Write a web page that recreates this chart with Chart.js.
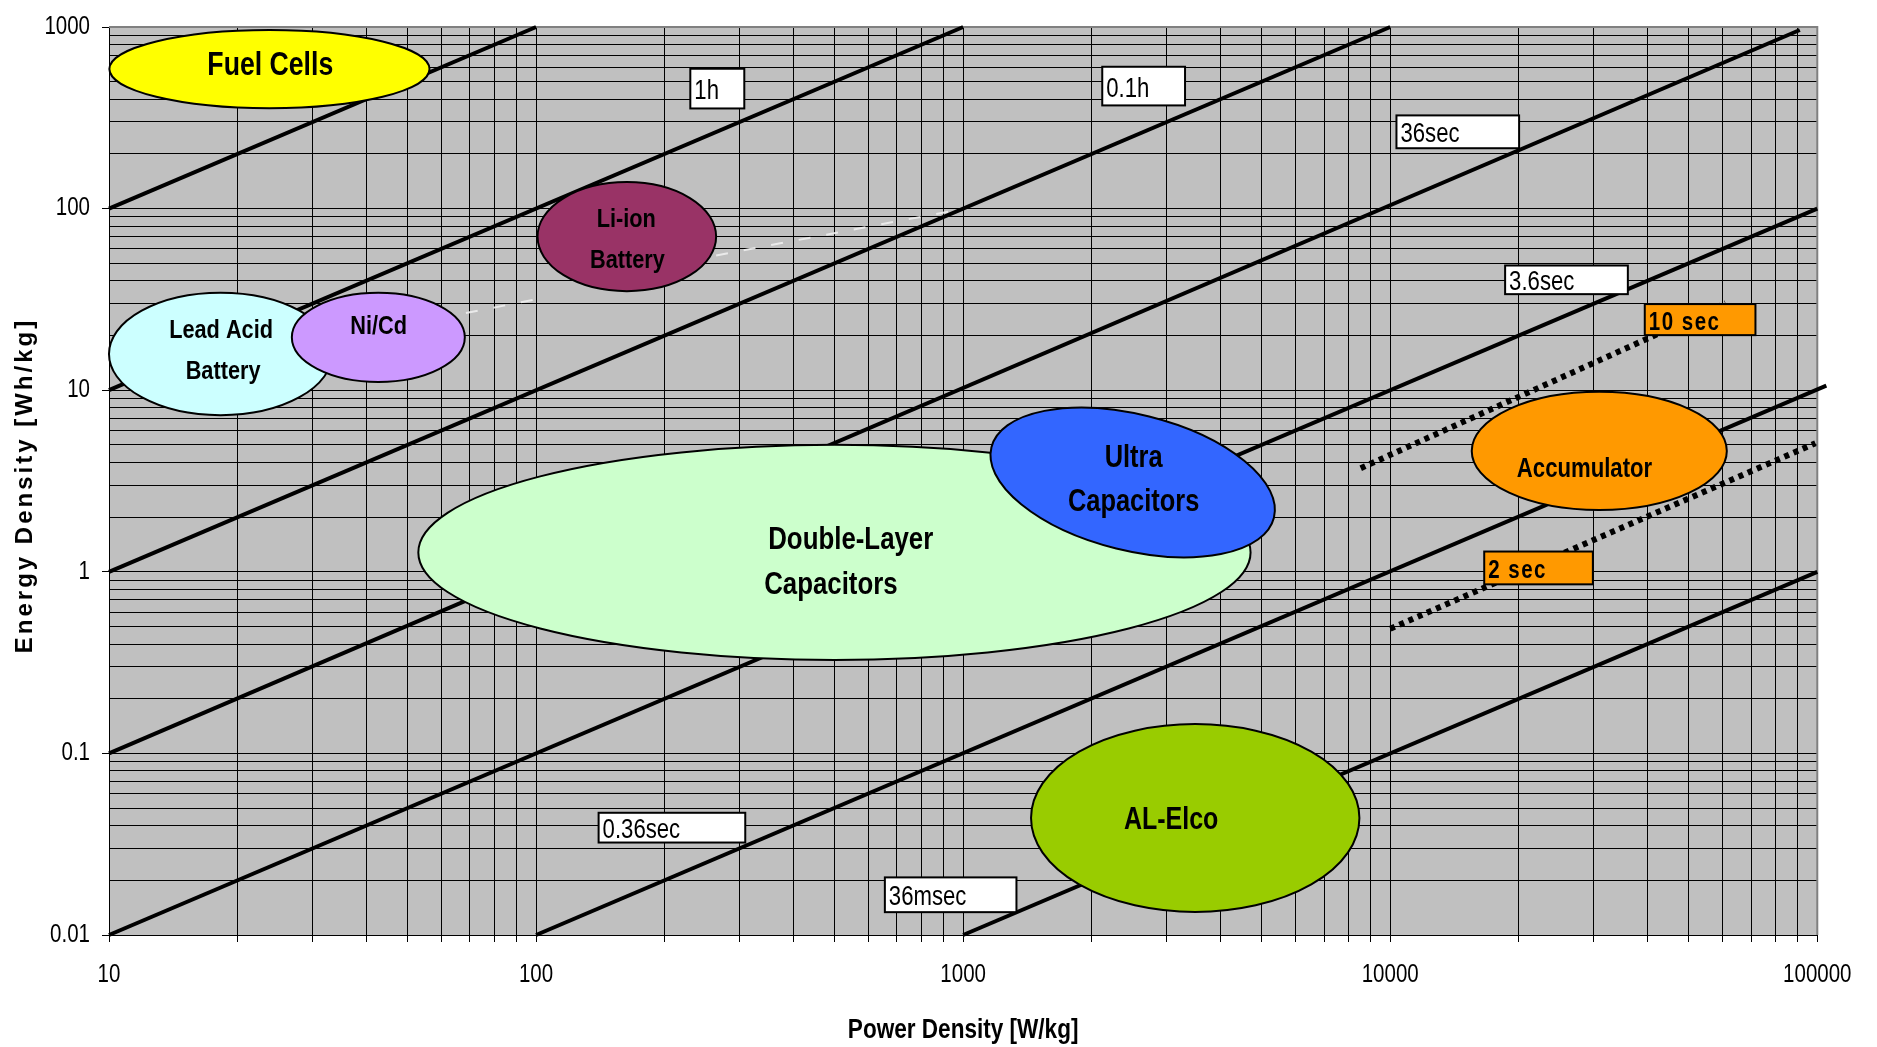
<!DOCTYPE html>
<html>
<head>
<meta charset="utf-8">
<script src="https://cdn.jsdelivr.net/npm/chart.js@4.4.0/dist/chart.umd.min.js"></script>
<style>
html,body{margin:0;padding:0;background:#ffffff;}
#wrap{width:1877px;height:1047px;position:relative;}
</style>
</head>
<body>
<div id="wrap"><canvas id="c"></canvas></div>
<script>
// ---------------- DATA ----------------
const xMajorTicks = [10, 100, 1000, 10000, 100000];
const xTickLabels = ['10', '100', '1000', '10000', '100000'];
const yMajorTicks = [0.01, 0.1, 1, 10, 100, 1000];
const yTickLabels = ['0.01', '0.1', '1', '10', '100', '1000'];

// constant discharge-time lines (Power W/kg, Energy Wh/kg)
const timeLineNames  = ['10h', '1h', '0.1h', '36sec', '3.6sec', '0.36sec', '36msec'];
const timeLineStartP = [10, 10, 10, 10, 10, 100, 1000];
const timeLineStartE = [100, 10, 1, 0.1, 0.01, 0.01, 0.01];
const timeLineEndP   = [100, 1000, 10000, 91000, 100000, 105000, 100000];
const timeLineEndE   = [1000, 1000, 1000, 963, 100, 10.6, 1];

// dotted lines
const dottedNames  = ['10 sec', '2 sec'];
const dottedStartP = [8530, 10000];
const dottedStartE = [3.72, 0.486];
const dottedEndP   = [61000, 99000];
const dottedEndE   = [30.1, 5.1];

// faint light dashed traces
const faintStartP = [68.5, 264];
const faintStartE = [26.6, 55.2];
const faintEndP   = [100.4, 1003];
const faintEndE   = [31.7, 99.8];

// technology regions (ellipses): power range, energy range, tilt (deg)
const techNames     = ['Fuel Cells', 'Lead Acid Battery', 'Ni/Cd', 'Li-ion Battery', 'Double-Layer Capacitors', 'Ultra Capacitors', 'Accumulator', 'AL-Elco'];
const techPowerMin  = [10.02, 10.0, 26.8, 100.8, 53, 1138, 15520, 1442];
const techPowerMax  = [56.3, 33.3, 68.1, 264, 4710, 5468, 61400, 8470];
const techEnergyMin = [357, 7.29, 11.1, 35.1, 0.327, 1.309, 2.19, 0.0134];
const techEnergyMax = [963, 34.4, 34.4, 140, 5.0, 7.356, 9.8, 0.145];
const techTilt      = [0, 0, 0, 0, 0, 14, 0, 0];
const techLabelLines = [['Fuel Cells'], ['Lead Acid', 'Battery'], ['Ni/Cd'], ['Li-ion', 'Battery'], ['Double-Layer', 'Capacitors'], ['Ultra', 'Capacitors'], ['Accumulator'], ['AL-Elco']];
const techLabelP = [[23.86], [18.3, 18.5], [42.8], [162.6, 163.6], [349.6, 342], [2507, 2507], [28510], [3069]];
const techLabelE = [[608], [21.3, 12.6], [22.3], [86.8, 51.9], [1.485, 0.8425], [4.225, 2.397], [3.646], [0.04258]];

// label boxes
const boxLabels = ['1h', '0.1h', '36sec', '3.6sec', '0.36sec', '36msec', '10 sec', '2 sec'];
const boxPmin = [229.7, 2117, 10342, 18580, 140.1, 655.7, 39450, 16600];
const boxPmax = [307.3, 3308, 20035, 36010, 308.9, 1333, 71650, 29820];
const boxEmin = [356, 370, 215, 33.8, 0.0323, 0.01336, 20.1, 0.853];
const boxEmax = [589, 604, 326, 48.6, 0.0471, 0.02076, 29.8, 1.293];

// ---------------- STYLE ----------------
const SANS = '"Liberation Sans", Arial, sans-serif';
const NARROW_SCALE = 0.82;  // Arial Narrow look
const techFill = ['#FFFF00', '#CCFFFF', '#CC99FF', '#993366', '#CCFFCC', '#3366FF', '#FF9900', '#99CC00'];
const techFont = [32.5, 26.5, 26.5, 26.5, 31.5, 31, 27, 30.5];
const techAlign = ['center', 'center', 'center', 'center', 'left', 'center', 'center', 'center'];
const boxFill = ['#FFFFFF', '#FFFFFF', '#FFFFFF', '#FFFFFF', '#FFFFFF', '#FFFFFF', '#FF9900', '#FF9900'];
const boxBold = [false, false, false, false, false, false, true, true];

function buildMinor(majors) {
  const out = [];
  for (let i = 0; i < majors.length; i++) {
    out.push(majors[i]);
    if (i < majors.length - 1) for (let k = 2; k <= 9; k++) out.push(+(majors[i] * k).toPrecision(6));
  }
  return out;
}
const xTickValues = buildMinor(xMajorTicks);
const yTickValues = buildMinor(yMajorTicks);

function majorIndex(list, v) {
  for (let i = 0; i < list.length; i++) if (Math.abs(v - list[i]) <= list[i] * 1e-6) return i;
  return -1;
}

// condensed text + optional letter spacing for every fillText on this canvas
const canvas = document.getElementById('c');
const ctx2d = canvas.getContext('2d');
(function install(ctx) {
  const orig = ctx.fillText;
  ctx._sx = NARROW_SCALE;
  ctx._sp = 0;
  ctx.fillText = function (text, x, y) {
    const sx = this._sx, sp = this._sp;
    this.save();
    this.translate(x, y);
    this.scale(sx, 1);
    if (!sp) {
      orig.call(this, text, 0, 0);
    } else {
      const chars = Array.from(String(text));
      const widths = chars.map(c => this.measureText(c).width);
      const gap = sp / sx;
      const total = widths.reduce((a, b) => a + b, 0) + gap * (chars.length - 1);
      const al = this.textAlign;
      let cx = al === 'center' ? -total / 2 : (al === 'right' || al === 'end') ? -total : 0;
      this.textAlign = 'left';
      chars.forEach((c, i) => { orig.call(this, c, cx, 0); cx += widths[i] + gap; });
    }
    this.restore();
  };
})(ctx2d);

// ---------------- DATASETS ----------------
const datasets = [];
dottedNames.forEach((n, i) => datasets.push({
  label: n,
  data: [{x: dottedStartP[i], y: dottedStartE[i]}, {x: dottedEndP[i], y: dottedEndE[i]}],
  showLine: true, pointRadius: 0, borderColor: '#000', borderWidth: 6,
  borderDash: [5, 5], borderCapStyle: 'butt', order: 0, clip: false
}));
timeLineNames.forEach((n, i) => datasets.push({
  label: n,
  data: [{x: timeLineStartP[i], y: timeLineStartE[i]}, {x: timeLineEndP[i], y: timeLineEndE[i]}],
  showLine: true, pointRadius: 0, borderColor: '#000', borderWidth: 4, order: 1, clip: false
}));
faintStartP.forEach((p, i) => datasets.push({
  label: 'trace' + i,
  data: [{x: p, y: faintStartE[i]}, {x: faintEndP[i], y: faintEndE[i]}],
  showLine: true, pointRadius: 0, borderColor: 'rgba(238,238,238,0.9)', borderWidth: 2,
  borderDash: [12, 16], order: 2
}));

// ---------------- PLUGIN ----------------
function drawRegions(chart) {
  const {ctx, scales: {x, y}} = chart;
  ctx.save();
  for (let i = 0; i < techNames.length; i++) {
    const x1 = x.getPixelForValue(techPowerMin[i]), x2 = x.getPixelForValue(techPowerMax[i]);
    const y1 = y.getPixelForValue(techEnergyMax[i]), y2 = y.getPixelForValue(techEnergyMin[i]);
    ctx.beginPath();
    ctx.ellipse((x1 + x2) / 2, (y1 + y2) / 2, (x2 - x1) / 2, (y2 - y1) / 2, techTilt[i] * Math.PI / 180, 0, Math.PI * 2);
    ctx.fillStyle = techFill[i];
    ctx.fill();
    ctx.lineWidth = 2;
    ctx.strokeStyle = '#000';
    ctx.stroke();
  }
  for (let i = 0; i < techNames.length; i++) {
    ctx.font = 'bold ' + techFont[i] + 'px ' + SANS;
    ctx.fillStyle = '#000';
    ctx.textAlign = techAlign[i];
    ctx.textBaseline = 'middle';
    techLabelLines[i].forEach((t, j) => {
      ctx.fillText(t, x.getPixelForValue(techLabelP[i][j]), y.getPixelForValue(techLabelE[i][j]));
    });
  }
  ctx.restore();
}

function drawBoxes(chart) {
  const {ctx, scales: {x, y}} = chart;
  ctx.save();
  for (let i = 0; i < boxLabels.length; i++) {
    const x1 = x.getPixelForValue(boxPmin[i]), x2 = x.getPixelForValue(boxPmax[i]);
    const y1 = y.getPixelForValue(boxEmax[i]), y2 = y.getPixelForValue(boxEmin[i]);
    ctx.fillStyle = boxFill[i];
    ctx.fillRect(x1, y1, x2 - x1, y2 - y1);
    ctx.lineWidth = 2;
    ctx.strokeStyle = '#000';
    ctx.strokeRect(x1, y1, x2 - x1, y2 - y1);
    ctx.fillStyle = '#000';
    ctx.textAlign = 'left';
    ctx.textBaseline = 'middle';
    if (boxBold[i]) { ctx.font = 'bold 25px ' + SANS; ctx._sp = 1.5; }
    else { ctx.font = '27px ' + SANS; ctx._sp = 0; }
    ctx.fillText(boxLabels[i], x1 + 4, (y1 + y2) / 2 + 3);
    ctx._sp = 0;
  }
  ctx.restore();
}

const ragonePlugin = {
  id: 'ragone',
  beforeDraw(chart) {
    const {ctx, chartArea: a} = chart;
    ctx.save();
    ctx.fillStyle = '#C0C0C0';
    ctx.fillRect(a.left, a.top, a.right - a.left, a.bottom - a.top);
    ctx.restore();
    const ys = chart.scales.y;
    if (ys && !ys._patchedTitle) {
      const orig = Object.getPrototypeOf(ys).drawTitle;
      ys.drawTitle = function () {
        const c = this.ctx;
        c.save();
        c._sx = 1; c._sp = 3;
        c.translate(0, 6);
        orig.call(this);
        c._sx = NARROW_SCALE; c._sp = 0;
        c.restore();
      };
      ys._patchedTitle = true;
    }
  },
  beforeDatasetsDraw(chart) {
    const {ctx, chartArea: a} = chart;
    ctx.save();
    ctx.strokeStyle = '#808080';
    ctx.lineWidth = 2;
    ctx.beginPath();
    ctx.moveTo(a.left, a.top);
    ctx.lineTo(a.right, a.top);
    ctx.lineTo(a.right, a.bottom);
    ctx.stroke();
    ctx.restore();
    chart._regionsDone = false;
  },
  beforeDatasetDraw(chart, args) {
    const ds = chart.data.datasets[args.index];
    if (dottedNames.includes(ds.label) && !chart._regionsDone) {
      drawRegions(chart);
      chart._regionsDone = true;
    }
  },
  afterDatasetsDraw(chart) {
    if (!chart._regionsDone) { drawRegions(chart); chart._regionsDone = true; }
    drawBoxes(chart);
  }
};

// ---------------- CHART ----------------
new Chart(canvas, {
  type: 'scatter',
  data: {datasets},
  options: {
    responsive: true,
    maintainAspectRatio: false,
    animation: false,
    events: [],
    layout: {padding: {top: 21, right: 55, left: 0, bottom: 0}},
    plugins: {legend: {display: false}, tooltip: {enabled: false}},
    scales: {
      x: {
        type: 'logarithmic', position: 'bottom', min: 10, max: 100000,
        afterBuildTicks: s => { s.ticks = xTickValues.map(v => ({value: v})); },
        afterFit: s => { s.height = 112; },
        ticks: {
          autoSkip: false, maxRotation: 0, minRotation: 0, padding: 18, color: '#000',
          font: {family: SANS, size: 25},
          callback: v => { const k = majorIndex(xMajorTicks, v); return k >= 0 ? xTickLabels[k] : ''; }
        },
        grid: {color: '#000', lineWidth: 1, tickLength: 7, tickColor: '#000', tickWidth: 1},
        border: {color: '#000', width: 1},
        title: {display: true, text: 'Power Density [W/kg]', color: '#000',
                font: {family: SANS, size: 27.5, weight: 'bold'}, padding: {top: 0, bottom: 0}}
      },
      y: {
        type: 'logarithmic', position: 'left', min: 0.01, max: 1000,
        afterBuildTicks: s => { s.ticks = yTickValues.map(v => ({value: v})); },
        afterFit: s => { s.width = 109; },
        ticks: {
          autoSkip: false, padding: 12, color: '#000',
          font: {family: SANS, size: 25},
          callback: v => { const k = majorIndex(yMajorTicks, v); return k >= 0 ? yTickLabels[k] : ''; }
        },
        grid: {color: '#000', lineWidth: 1, tickLength: 7, tickWidth: 1,
               tickColor: c => (c.tick && majorIndex(yMajorTicks, c.tick.value) >= 0) ? '#000' : 'rgba(0,0,0,0)'},
        border: {color: '#000', width: 1},
        title: {display: true, text: 'Energy Density [Wh/kg]', color: '#000',
                font: {family: SANS, size: 24, weight: 'bold'}, padding: {top: 11, bottom: 0}}
      }
    }
  },
  plugins: [ragonePlugin]
});
</script>
</body>
</html>
